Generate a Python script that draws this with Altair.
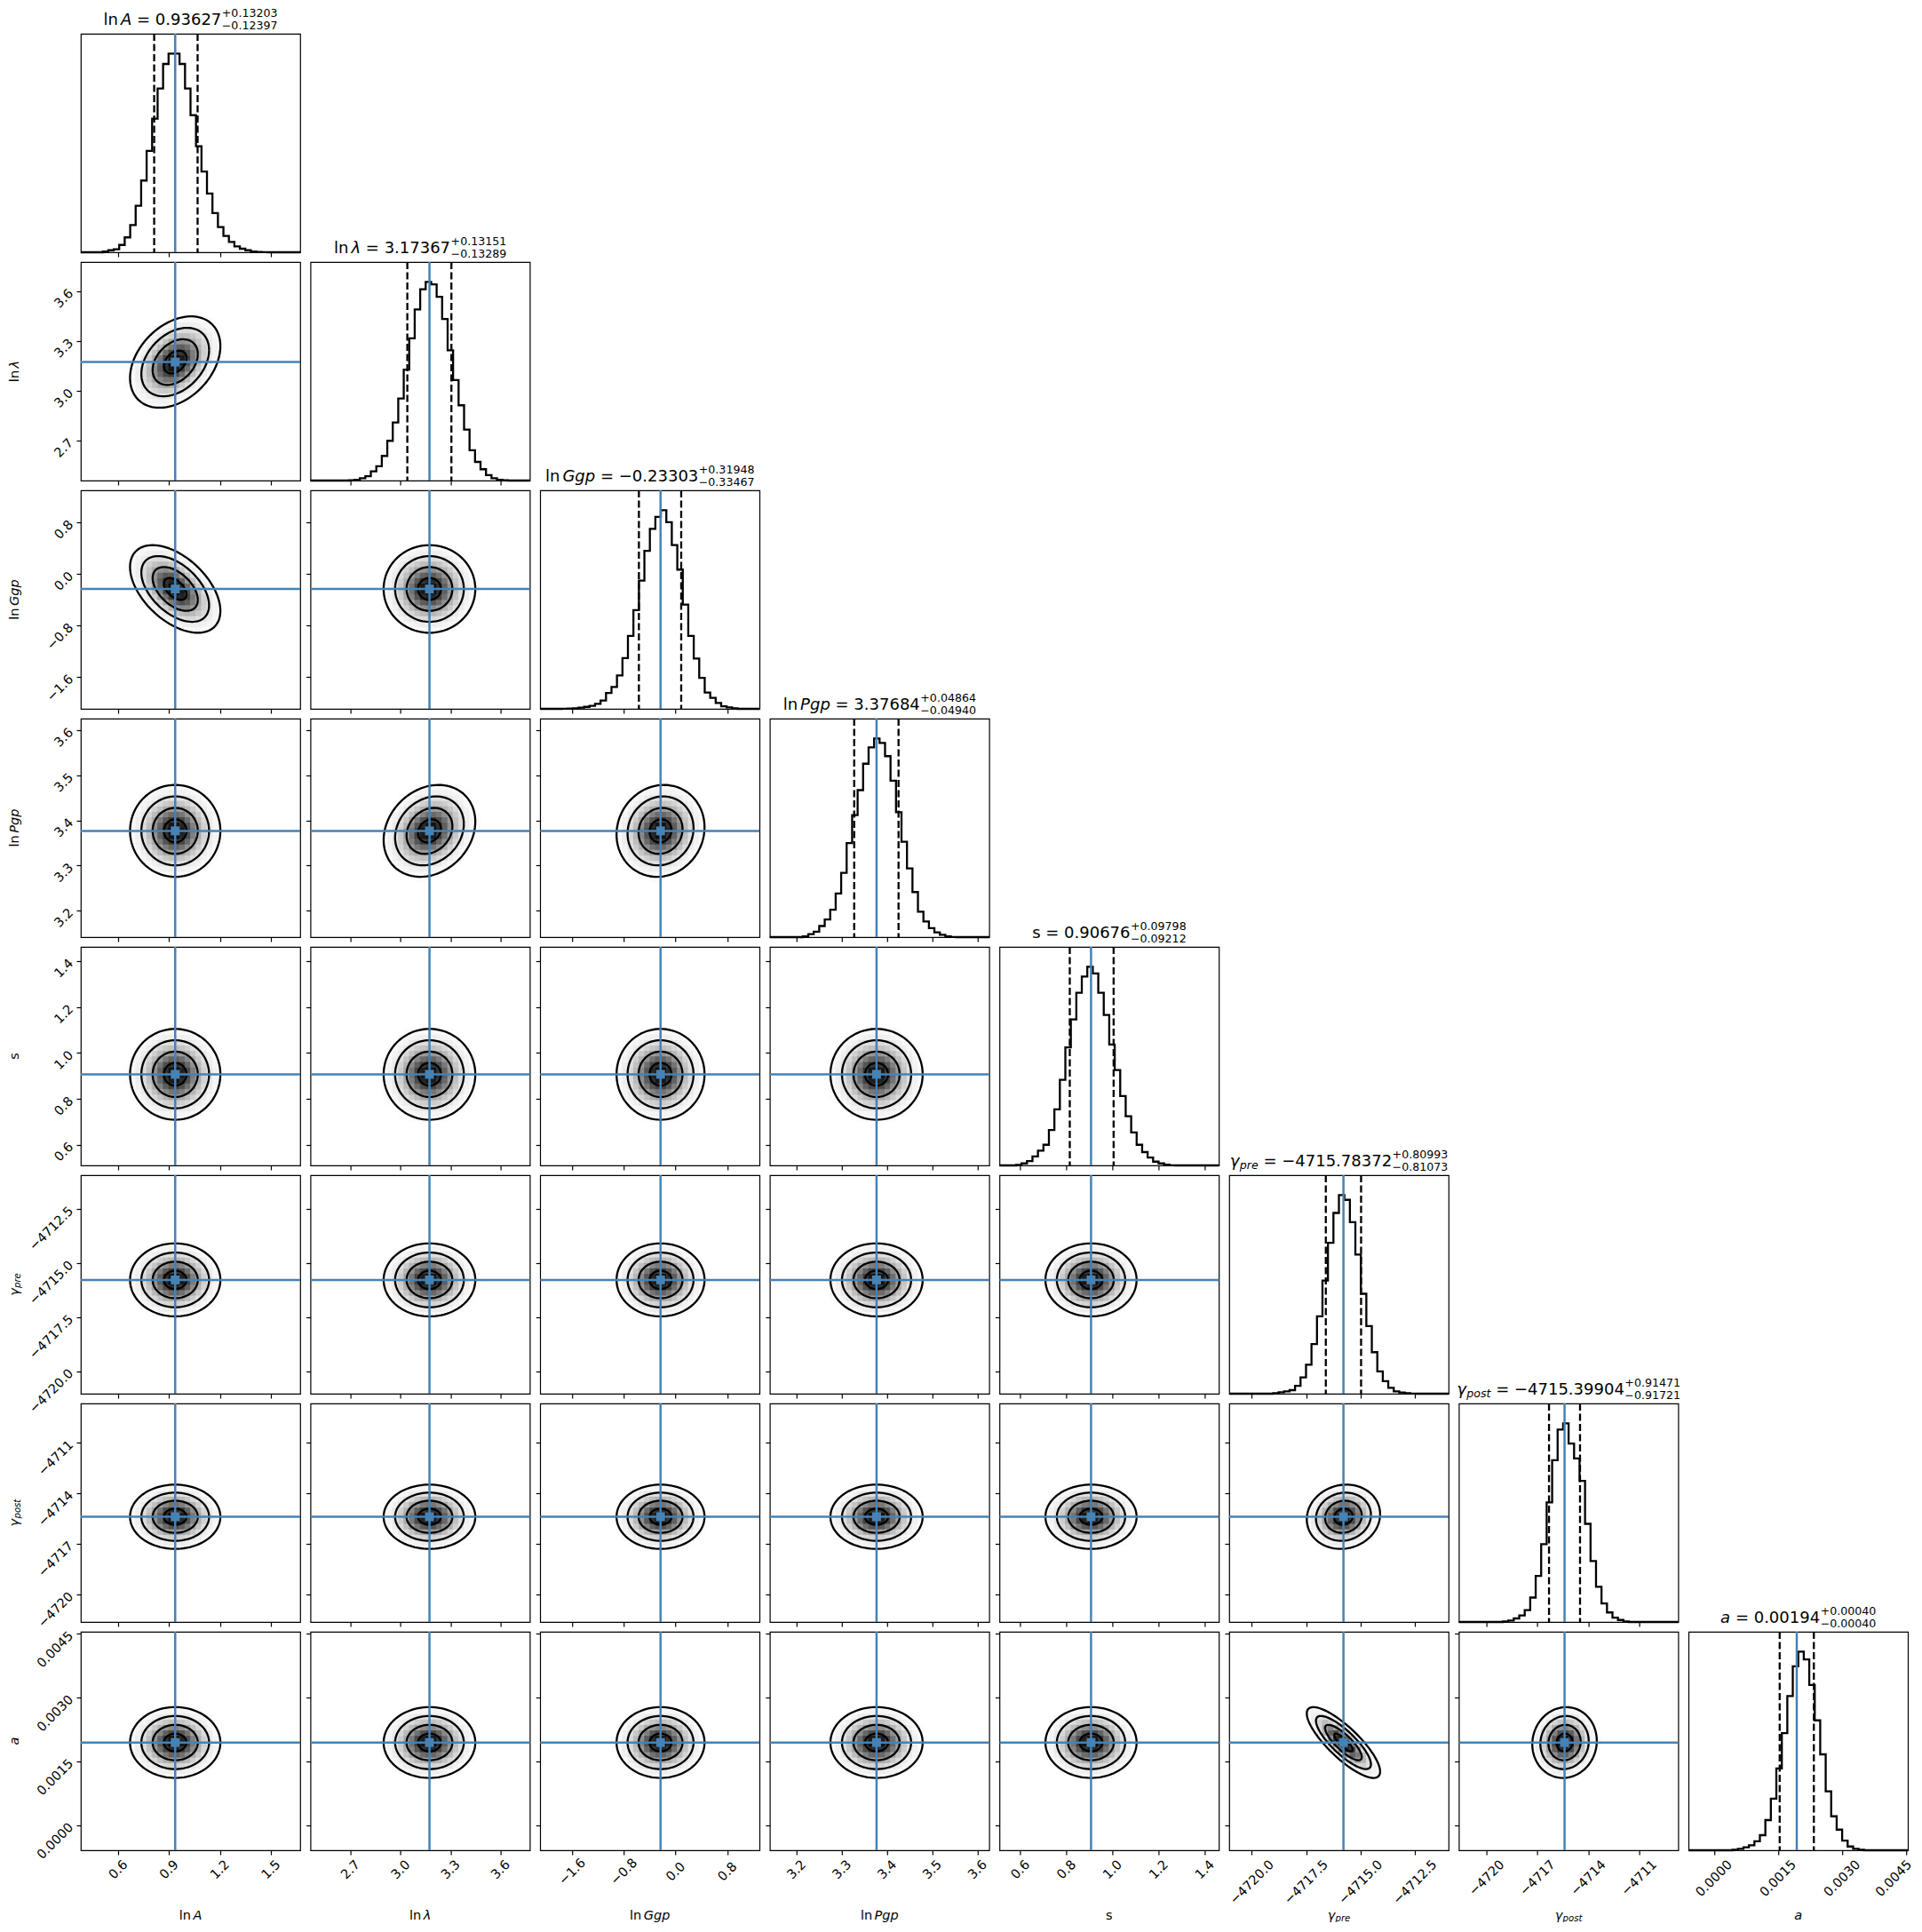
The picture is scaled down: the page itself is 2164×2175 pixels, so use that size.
import numpy as np
import pandas as pd
import altair as alt

alt.data_transformers.disable_max_rows()

FONT = "DejaVu Sans"
BLUE = "#4682b4"

# ---------------- data ----------------
MEDIAN = [0.93627, 3.17367, -0.23303, 3.37684, 0.90676, -4715.78372, -4715.39904, 0.00194]
ERR_PLUS = [0.13203, 0.13151, 0.31948, 0.04864, 0.09798, 0.80993, 0.91471, 0.00040]
ERR_MINUS = [0.12397, 0.13289, 0.33467, 0.04940, 0.09212, 0.81073, 0.91721, 0.00040]
MED_TEXT = ["0.93627", "3.17367", "−0.23303", "3.37684", "0.90676", "−4715.78372", "−4715.39904", "0.00194"]
PLUS_TEXT = ["+0.13203", "+0.13151", "+0.31948", "+0.04864", "+0.09798", "+0.80993", "+0.91471", "+0.00040"]
MINUS_TEXT = ["−0.12397", "−0.13289", "−0.33467", "−0.04940", "−0.09212", "−0.81073", "−0.91721", "−0.00040"]

RANGE_LO = [0.380, 2.460, -2.094, 3.141, 0.510, -4721.035, -4721.64, -0.000593]
RANGE_HI = [1.673, 3.776, 1.298, 3.626, 1.4615, -4710.95, -4708.68, 0.004544]

TICKS = [
    [0.6, 0.9, 1.2, 1.5],
    [2.7, 3.0, 3.3, 3.6],
    [-1.6, -0.8, 0.0, 0.8],
    [3.2, 3.3, 3.4, 3.5, 3.6],
    [0.6, 0.8, 1.0, 1.2, 1.4],
    [-4720.0, -4717.5, -4715.0, -4712.5],
    [-4720, -4717, -4714, -4711],
    [0.0, 0.0015, 0.0030, 0.0045],
]
TICK_FORMAT = [".1f", ".1f", ".1f", ".1f", ".1f", ".1f", ".0f", ".4f"]

# step histograms (40 bins over the axis range), relative heights
HIST = [
    [0, 0, 0, 0, 0.004, 0.01, 0.015, 0.037, 0.075, 0.137, 0.234, 0.361, 0.51, 0.672, 0.824, 0.948, 1.0, 1.0, 0.948, 0.824,
     0.69, 0.534, 0.406, 0.296, 0.197, 0.127, 0.082, 0.052, 0.03, 0.018, 0.01, 0.004, 0.002, 0.001, 0, 0, 0, 0, 0, 0],
    [0, 0, 0, 0, 0, 0, 0, 0.002, 0.004, 0.012, 0.022, 0.046, 0.072, 0.124, 0.2, 0.292, 0.413, 0.558, 0.716, 0.861,
     0.963, 1.0, 0.988, 0.925, 0.813, 0.656, 0.506, 0.379, 0.257, 0.153, 0.094, 0.057, 0.027, 0.012, 0.004, 0.002, 0, 0, 0, 0],
    [0, 0, 0, 0, 0.001, 0.002, 0.003, 0.006, 0.01, 0.015, 0.025, 0.042, 0.08, 0.11, 0.168, 0.255, 0.367, 0.497, 0.646, 0.795,
     0.906, 0.966, 1.0, 0.94, 0.824, 0.701, 0.525, 0.367, 0.253, 0.156, 0.082, 0.055, 0.03, 0.013, 0.007, 0.003, 0, 0, 0, 0],
    [0, 0, 0, 0, 0, 0, 0.004, 0.015, 0.027, 0.056, 0.089, 0.138, 0.22, 0.324, 0.473, 0.614, 0.74, 0.873, 0.955, 1.0,
     0.978, 0.911, 0.788, 0.629, 0.48, 0.346, 0.227, 0.128, 0.079, 0.045, 0.024, 0.012, 0.004, 0.001, 0, 0, 0, 0, 0, 0],
    [0, 0, 0, 0.003, 0.01, 0.022, 0.045, 0.074, 0.104, 0.178, 0.282, 0.431, 0.594, 0.735, 0.869, 0.951, 1.0, 0.966, 0.869, 0.757,
     0.609, 0.48, 0.349, 0.248, 0.166, 0.104, 0.067, 0.04, 0.019, 0.01, 0.004, 0.001, 0, 0, 0, 0, 0, 0, 0, 0],
    [0, 0, 0, 0, 0, 0, 0, 0, 0.003, 0.007, 0.012, 0.018, 0.04, 0.082, 0.146, 0.25, 0.39, 0.57, 0.76, 0.91,
     1.0, 0.976, 0.864, 0.7, 0.503, 0.34, 0.209, 0.112, 0.063, 0.03, 0.012, 0.006, 0.003, 0.001, 0, 0, 0, 0, 0, 0],
    [0, 0, 0, 0, 0, 0, 0, 0, 0.003, 0.007, 0.018, 0.033, 0.06, 0.123, 0.232, 0.392, 0.602, 0.814, 0.969, 1.0,
     0.898, 0.823, 0.71, 0.494, 0.307, 0.177, 0.093, 0.048, 0.022, 0.01, 0.003, 0, 0, 0, 0, 0, 0, 0, 0, 0],
    [0, 0, 0, 0, 0, 0, 0, 0, 0.003, 0.007, 0.015, 0.025, 0.045, 0.076, 0.152, 0.26, 0.412, 0.59, 0.776, 0.926,
     1.0, 0.961, 0.832, 0.654, 0.483, 0.297, 0.171, 0.104, 0.049, 0.019, 0.007, 0.003, 0, 0, 0, 0, 0, 0, 0, 0],
]

# correlation of each lower-triangle pair (row j, column i)
CORR = [
    [0, 0, 0, 0, 0, 0, 0, 0],
    [0.35, 0, 0, 0, 0, 0, 0, 0],
    [-0.5, 0.0, 0, 0, 0, 0, 0, 0],
    [0.0, 0.2, 0.08, 0, 0, 0, 0, 0],
    [0.0, 0.0, 0.0, 0.0, 0, 0, 0, 0],
    [0.0, 0.0, 0.0, 0.0, 0.0, 0, 0, 0],
    [0.0, 0.0, 0.0, 0.0, 0.0, 0.08, 0, 0],
    [0.0, 0.0, 0.0, 0.0, 0.0, -0.82, 0.05, 0],
]
CONTOUR_SIGMAS = [0.5, 1.0, 1.5, 2.0]
SMOOTH = 1.04

# label pieces: (text, italic, size scale, baseline shift em, gap before em)
LABEL_SEGS = [
    [("ln", False, 1, 0, 0), ("A", True, 1, 0, 0.17)],
    [("ln", False, 1, 0, 0), ("λ", True, 1, 0, 0.17)],
    [("ln", False, 1, 0, 0), ("Ggp", True, 1, 0, 0.17)],
    [("ln", False, 1, 0, 0), ("Pgp", True, 1, 0, 0.17)],
    [("s", False, 1, 0, 0)],
    [("γ", True, 1, 0, 0), ("pre", True, 0.7, 0.15, 0.02)],
    [("γ", True, 1, 0, 0), ("post", True, 0.7, 0.15, 0.02)],
    [("a", True, 1, 0, 0)],
]

# ---------------- layout ----------------
N = 8
W, H = 247, 246
HSP, VSP = 11.6, 11.0
TITLE_FS = 18
LABEL_FS = 14.5
LINE_W = 2.3

CW = {"l": 0.278, "n": 0.634, "A": 0.684, "=": 0.838, " ": 0.318, ".": 0.318, "−": 0.838, "+": 0.838,
      "s": 0.521, "a": 0.613, "G": 0.775, "g": 0.635, "p": 0.635, "P": 0.603, "λ": 0.592, "γ": 0.592,
      "r": 0.411, "e": 0.615, "o": 0.612, "t": 0.392}


def tw(s, fs):
    return fs * sum(CW.get(c, 0.636) for c in s)


def fmt(v, f):
    return format(v, f).replace("-", "−")


XPAD = []
for _i in range(N):
    _labs = [fmt(v, TICK_FORMAT[_i]) for v in TICKS[_i]]
    _L = sum(tw(s, LABEL_FS) for s in _labs) / len(_labs)
    XPAD.append(5 + (_L + 10.6) / 2.83)

ONE = pd.DataFrame({"k": [0]})


def txt(text, x, y, fs, italic=False, angle=None):
    props = dict(text=text, font=FONT, fontSize=fs, align="left", baseline="alphabetic", color="black")
    if italic:
        props["fontStyle"] = "italic"
    if angle is not None:
        props["angle"] = angle
    return alt.Chart(ONE).mark_text(**props).encode(x=alt.value(x), y=alt.value(y))


def rich(segs, base):
    out, x = [], 0.0
    for seg in segs:
        if seg[0] == "STACK":
            _, a, b, gap = seg
            x += gap * base
            wa = tw(a[0], a[2] * base)
            wb = tw(b[0], b[2] * base)
            out.append((a[0], a[1], a[2] * base, x, a[3] * base))
            out.append((b[0], b[1], b[2] * base, x, b[3] * base))
            x += max(wa, wb)
        else:
            text, it, s, dy, gap = seg
            x += gap * base
            out.append((text, it, s * base, x, dy * base))
            x += tw(text, s * base)
    return out, x


def title_layers(i):
    segs = LABEL_SEGS[i] + [("=", False, 1, 0, 0.318), (MED_TEXT[i], False, 1, 0, 0.318),
                            ("STACK", (PLUS_TEXT[i], False, 0.7, -0.5), (MINUS_TEXT[i], False, 0.7, 0.25), 0.03)]
    pl, total = rich(segs, TITLE_FS)
    x0 = W / 2 - total / 2
    return [txt(t, x0 + xo, -10 + dy, fs, it) for t, it, fs, xo, dy in pl]


def xtitle_layers(i):
    pl, total = rich(LABEL_SEGS[i], LABEL_FS)
    x0 = W / 2 - total / 2
    return [txt(t, x0 + xo, H + 78 + dy, fs, it) for t, it, fs, xo, dy in pl]


def ytitle_layers(j):
    pl, total = rich(LABEL_SEGS[j], LABEL_FS)
    y0 = H / 2 + total / 2
    return [txt(t, -70 + dy, y0 - xo, fs, it, angle=270) for t, it, fs, xo, dy in pl]


def scale(i):
    return alt.Scale(domain=[RANGE_LO[i], RANGE_HI[i]], nice=False, zero=False)


def x_axis(i, show):
    if show:
        extra = {}
        if i == N - 1:
            # keep the right-most label inside the page
            extra["labelOffset"] = {"condition": {"test": "datum.value > 0.004", "value": -14}, "value": 0}
        return alt.Axis(values=TICKS[i], format=TICK_FORMAT[i], labels=True, labelAngle=-45,
                        labelAlign="center", labelBaseline="middle", labelPadding=XPAD[i],
                        labelOverlap=False, labelFlush=False, title=None, domain=False, grid=False, ticks=True,
                        **extra)
    return alt.Axis(values=TICKS[i], labels=False, title=None, domain=False, grid=False, ticks=True)


def y_axis(j, show):
    if show:
        return alt.Axis(values=TICKS[j], format=TICK_FORMAT[j], labels=True, labelAngle=-45,
                        labelAlign="right", labelBaseline="middle", labelPadding=6,
                        labelOverlap=False, labelFlush=False, title=None, domain=False, grid=False, ticks=True)
    return alt.Axis(values=TICKS[j], labels=False, title=None, domain=False, grid=False, ticks=True)


def diag(i):
    show = (i == N - 1)
    ax = x_axis(i, show)
    sc = scale(i)

    def X(f):
        return alt.X(f, type="quantitative", scale=sc, axis=ax)

    edges = np.linspace(RANGE_LO[i], RANGE_HI[i], 41)
    hist_df = pd.DataFrame({"x": edges, "h": list(HIST[i]) + [HIST[i][-1]]})
    hist = alt.Chart(hist_df).mark_line(interpolate="step-after", color="black", strokeWidth=LINE_W).encode(
        x=X("x"),
        y=alt.Y("h", type="quantitative", scale=alt.Scale(domain=[0, 1.1 * max(HIST[i])], nice=False), axis=None),
    )
    q_df = pd.DataFrame({"q": [MEDIAN[i] - ERR_MINUS[i], MEDIAN[i] + ERR_PLUS[i]]})
    qrule = alt.Chart(q_df).mark_rule(color="black", strokeWidth=LINE_W, strokeDash=[8, 3.5]).encode(x=X("q"))
    truth = alt.Chart(pd.DataFrame({"t": [MEDIAN[i]]})).mark_rule(color=BLUE, strokeWidth=2.5).encode(x=X("t"))
    layers = [hist, qrule, truth] + title_layers(i)
    if show:
        layers += xtitle_layers(i)
    return alt.layer(*layers).properties(width=W, height=H)


def lower(j, i):
    axx = x_axis(i, j == N - 1)
    axy = y_axis(j, i == 0)
    sx_, sy_ = scale(i), scale(j)

    def X(f):
        return alt.X(f, type="quantitative", scale=sx_, axis=axx)

    def Y(f):
        return alt.Y(f, type="quantitative", scale=sy_, axis=axy)

    mx, my = MEDIAN[i], MEDIAN[j]
    sx = 0.5 * (ERR_PLUS[i] + ERR_MINUS[i]) * SMOOTH
    sy = 0.5 * (ERR_PLUS[j] + ERR_MINUS[j]) * SMOOTH
    rho = CORR[j][i]

    ex = np.linspace(RANGE_LO[i], RANGE_HI[i], 41)
    ey = np.linspace(RANGE_LO[j], RANGE_HI[j], 41)
    cx = 0.5 * (ex[:-1] + ex[1:])
    cy = 0.5 * (ey[:-1] + ey[1:])
    rows = []
    for a in range(40):
        for b in range(40):
            u = (cx[a] - mx) / sx
            v = (cy[b] - my) / sy
            m2 = (u * u - 2 * rho * u * v + v * v) / (1 - rho * rho)
            g = 1 - np.exp(-m2)
            if g < 0.99:
                val = int(round(255 * g))
                rows.append((ex[a], ex[a + 1], ey[b], ey[b + 1], "#%02x%02x%02x" % (val, val, val)))
    dens = pd.DataFrame(rows, columns=["x0", "x1", "y0", "y1", "c"])
    rect = alt.Chart(dens).mark_rect(strokeWidth=0.6).encode(
        x=X("x0"), x2="x1", y=Y("y0"), y2="y1",
        color=alt.Color("c:N", scale=None), stroke=alt.Color("c:N", scale=None),
    )

    t = np.linspace(0, 2 * np.pi, 97)
    crow = []
    for r in CONTOUR_SIGMAS:
        xs = mx + sx * r * np.cos(t)
        ys = my + sy * r * (rho * np.cos(t) + np.sqrt(1 - rho * rho) * np.sin(t))
        for k in range(len(t)):
            crow.append((r, k, xs[k], ys[k]))
    cdf = pd.DataFrame(crow, columns=["lev", "idx", "cx", "cy"])
    cont = alt.Chart(cdf).mark_line(color="black", strokeWidth=LINE_W, strokeJoin="round").encode(
        x=X("cx"), y=Y("cy"), detail="lev:N", order="idx:Q")

    vr = alt.Chart(pd.DataFrame({"t": [mx]})).mark_rule(color=BLUE, strokeWidth=2.5).encode(x=X("t"))
    hr = alt.Chart(pd.DataFrame({"t": [my]})).mark_rule(color=BLUE, strokeWidth=2.5).encode(y=Y("t"))
    sq = alt.Chart(pd.DataFrame({"tx": [mx], "ty": [my]})).mark_square(
        size=100, color=BLUE, filled=True, opacity=1).encode(x=X("tx"), y=Y("ty"))

    layers = [rect, cont, vr, hr, sq]
    if j == N - 1:
        layers += xtitle_layers(i)
    if i == 0:
        layers += ytitle_layers(j)
    return alt.layer(*layers).properties(width=W, height=H)


def blank():
    return alt.Chart(ONE).mark_point(opacity=0).encode(
        x=alt.value(0), y=alt.value(0)
    ).properties(width=W, height=H, view=alt.ViewBackground(strokeOpacity=0))


cells = []
for j in range(N):
    for i in range(N):
        if i < j:
            cells.append(lower(j, i))
        elif i == j:
            cells.append(diag(j))
        else:
            cells.append(blank())

chart = alt.concat(
    *cells, columns=N, spacing=alt.RowColnumber(row=VSP, column=HSP), bounds="flush"
).configure_view(
    stroke="black", strokeWidth=1.2
).configure_axis(
    tickColor="black", tickWidth=1.2, tickSize=5, labelFont=FONT, labelFontSize=LABEL_FS, labelColor="black"
).properties(padding={"left": 0, "top": 0, "right": 0, "bottom": -2}, background="white")

chart.save("out.html", embed_options={"renderer": "svg", "actions": False})
